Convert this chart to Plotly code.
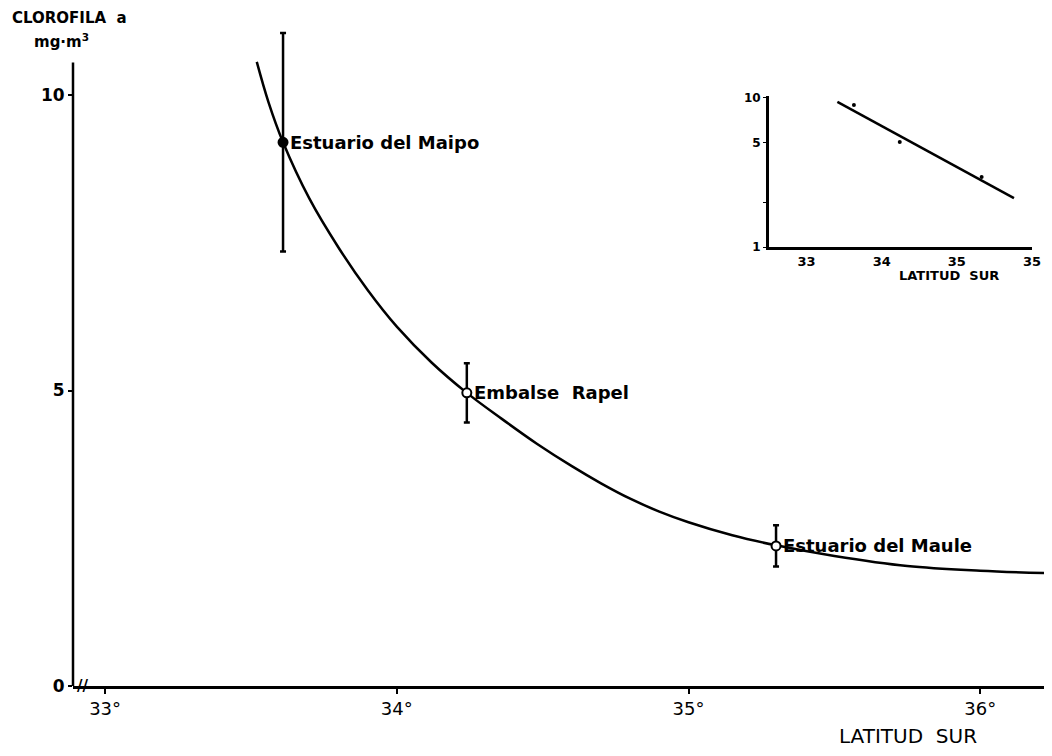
import plotly.graph_objects as go

# ---- data ----
site_names = ["Estuario del Maipo", "Embalse  Rapel", "Estuario del Maule"]
site_lat = [33.61, 34.24, 35.30]
site_chl = [9.20, 4.96, 2.37]
site_err = [1.85, 0.50, 0.35]

curve_lat = [33.52, 33.56, 33.61, 33.70, 33.80, 33.90, 34.00, 34.12, 34.24, 34.36,
             34.48, 34.60, 34.70, 34.80, 34.90, 35.00, 35.15, 35.30, 35.50, 35.75,
             36.00, 36.22]
curve_chl = [10.56, 9.88, 9.20, 8.25, 7.42, 6.70, 6.08, 5.47, 4.96, 4.52,
             4.10, 3.72, 3.43, 3.17, 2.95, 2.77, 2.55, 2.38, 2.20, 2.03,
             1.95, 1.91]

inset_line_lat = [33.41, 35.76]
inset_line_chl = [9.4, 2.13]
inset_pts_lat = [33.63, 34.24, 35.33]
inset_pts_chl = [8.97, 5.07, 2.95]

x_tickvals = [33, 34, 35, 36]
x_ticktext = ["33°", "34°", "35°", "36°"]
y_tickvals = [0, 5, 10]
y_ticktext = ["0", "5", "10"]
inset_x_tickvals = [33, 34, 35, 36]
inset_x_ticktext = ["33", "34", "35", "35"]
inset_y_tickvals = [1, 5, 10]
inset_y_ticktext = ["1", "5", "10"]
inset_y_minor = [2]

FONT = "DejaVu Sans"
OFF = 8  # page body margin in the browser
ML, MT = 73 - OFF, 30 - OFF
PW, PH = 1052 - 73, 686 - 30
MR, MB = 0, 70
W, H = ML + PW + MR, MT + PH + MB


def px(xp):
    return (xp - 73) / PW


def py(yp):
    return (686 - yp) / PH


fig = go.Figure()

# fitted curve
fig.add_trace(go.Scatter(x=curve_lat, y=curve_chl, mode="lines",
                         line=dict(color="black", width=2.5, shape="spline", smoothing=1.0),
                         hoverinfo="skip", showlegend=False))

# site means with error bars
fills = ["black", "white", "white"]
fig.add_trace(go.Scatter(x=site_lat, y=site_chl, mode="markers",
                         marker=dict(size=9, color=fills, line=dict(color="black", width=2)),
                         error_y=dict(type="data", array=site_err, visible=True,
                                      color="black", thickness=2.5, width=3),
                         showlegend=False))

# inset
fig.add_trace(go.Scatter(x=inset_line_lat, y=inset_line_chl, mode="lines",
                         line=dict(color="black", width=2.5),
                         xaxis="x2", yaxis="y2", showlegend=False))
fig.add_trace(go.Scatter(x=inset_pts_lat, y=inset_pts_chl, mode="markers",
                         marker=dict(size=4, color="black"),
                         xaxis="x2", yaxis="y2", showlegend=False))

annotations = []
for name, la, ch in zip(site_names, site_lat, site_chl):
    annotations.append(dict(x=la, y=ch, xref="x", yref="y", text=name, showarrow=False,
                            xanchor="left", yanchor="middle", xshift=5,
                            font=dict(family=FONT, size=18, color="black", weight="bold")))

annotations += [
    dict(x=px(69), y=py(18), xref="paper", yref="paper", text="CLOROFILA  a",
         showarrow=False, xanchor="center", yanchor="middle",
         font=dict(family=FONT, size=15, color="black", weight="bold")),
    dict(x=px(61), y=py(41), xref="paper", yref="paper", text="mg·m<sup>3</sup>",
         showarrow=False, xanchor="center", yanchor="middle",
         font=dict(family=FONT, size=15, color="black", weight="bold")),
    dict(x=px(908), y=py(736), xref="paper", yref="paper", text="LATITUD  SUR",
         showarrow=False, xanchor="center", yanchor="middle",
         font=dict(family=FONT, size=20, color="black")),
    dict(x=px(949), y=py(275), xref="paper", yref="paper", text="LATITUD  SUR",
         showarrow=False, xanchor="center", yanchor="middle",
         font=dict(family=FONT, size=13, color="black", weight="bold")),
    dict(x=px(82), y=py(686), xref="paper", yref="paper", text="<b>//</b>",
         showarrow=False, xanchor="center", yanchor="middle",
         font=dict(family=FONT, size=15, color="black")),
    dict(x=px(1042), y=py(205), xref="paper", yref="paper", text="<b>z</b>",
         showarrow=False, xanchor="left", yanchor="middle",
         font=dict(family=FONT, size=11, color="black")),
]

shapes = [
    # main y-axis line (stops just above 10)
    dict(type="line", xref="paper", yref="y", x0=0, x1=0, y0=0, y1=10.55,
         line=dict(color="black", width=2.5)),
]

fig.update_layout(
    width=W, height=H,
    margin=dict(l=ML, r=MR, t=MT, b=MB, autoexpand=False),
    paper_bgcolor="white", plot_bgcolor="white",
    showlegend=False,
    font=dict(family=FONT, color="black"),
    xaxis=dict(range=[32.89, 36.246], tickvals=x_tickvals, ticktext=x_ticktext,
               showgrid=False, zeroline=False, showline=True, linecolor="black",
               linewidth=2.5, ticks="outside", ticklen=5, tickwidth=1.5, tickcolor="black",
               tickfont=dict(family=FONT, size=18), automargin=False),
    yaxis=dict(range=[0, 11.1], tickvals=y_tickvals, ticktext=y_ticktext,
               showgrid=False, zeroline=False, showline=False,
               ticks="outside", ticklen=4, tickwidth=1.5, tickcolor="black",
               tickfont=dict(family=FONT, size=17, weight="bold"), automargin=False),
    xaxis2=dict(domain=[px(769), px(1032)], anchor="y2", range=[32.5, 36.0],
                tickvals=inset_x_tickvals, ticktext=inset_x_ticktext,
                showgrid=False, zeroline=False, showline=True, linecolor="black",
                linewidth=3, ticks="", tickfont=dict(family=FONT, size=13, weight="bold")),
    yaxis2=dict(domain=[py(247), py(96)], anchor="x2", type="log", range=[0, 1.013],
                tickvals=inset_y_tickvals, ticktext=inset_y_ticktext,
                showgrid=False, zeroline=False, showline=True, linecolor="black",
                linewidth=3, ticks="outside", ticklen=3, tickcolor="black",
                minor=dict(tickvals=inset_y_minor, ticks="outside", ticklen=3,
                           tickcolor="black"),
                tickfont=dict(family=FONT, size=12, weight="bold")),
    annotations=annotations,
    shapes=shapes,
)

fig.write_html("out.html")
